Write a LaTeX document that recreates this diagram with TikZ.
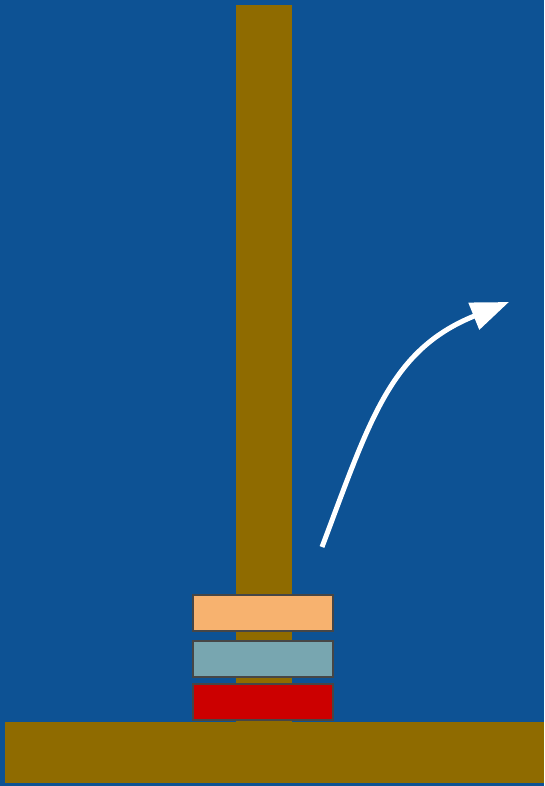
\documentclass[tikz,border=0pt]{standalone}
\usetikzlibrary{arrows.meta}

\begin{document}
\begin{tikzpicture}[x=1pt, y=-1pt,
  disk/.style={draw=diskedge, line width=2pt},
  move/.style={white, line width=5pt, -{Triangle[length=38pt,width=28pt]}}]

\definecolor{skycol}{RGB}{13,82,148}
\definecolor{woodcol}{RGB}{143,107,0}
\definecolor{diskedge}{RGB}{70,70,70}
\definecolor{diskred}{RGB}{204,0,0}
\definecolor{diskteal}{RGB}{120,166,176}
\definecolor{diskorange}{RGB}{247,178,111}

\def\dl{193}  % disk left edge
\def\dr{333}  % disk right edge
\def\dh{36}   % disk height

% ---------------- background ----------------
\fill[skycol] (0,0) rectangle (544,786);

% ---------------- peg and base ----------------
\fill[woodcol] (236,5) rectangle (292,722);
\fill[woodcol] (5,722) rectangle (544,783);

% ---------------- disks, bottom to top ----------------
\foreach \yt/\col in {683.5/diskred, 640.5/diskteal, 594.5/diskorange}
  \draw[disk, fill=\col] (\dl,\yt) rectangle (\dr,\yt+\dh);

% ---------------- move arrow ----------------
\coordinate (from) at (322,547);
\coordinate (to) at (509,302);
\draw[move] (from) .. controls (370,420) and (390,350) .. (to);

\end{tikzpicture}
\end{document}
